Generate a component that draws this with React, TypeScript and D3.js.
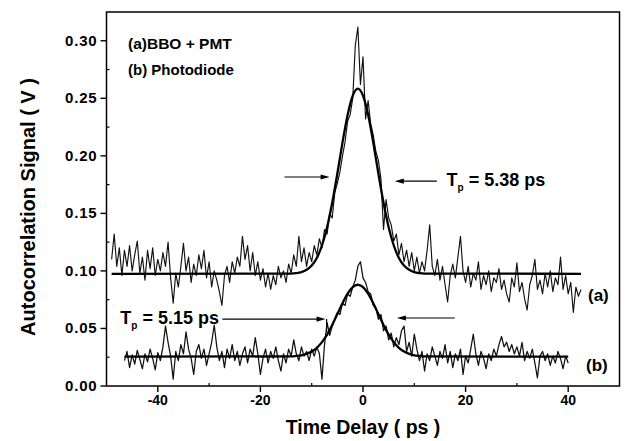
import React from "react";
import * as d3 from "d3";

// ---------- data (time in ps, signal in mV) ----------
const yTickValues = [0, 0.05, 0.1, 0.15, 0.2, 0.25, 0.3];
const yMinorTicks = [0.025, 0.075, 0.125, 0.175, 0.225, 0.275];
const xTickValues = [-40, -20, 0, 20, 40];
const xMinorTicks = [-30, -10, 10, 30];

const signalA: [number, number][] = [
  [-49,110],[-48.5,132],[-48,104],[-47.5,120],[-47,96],[-46.5,118],[-46,104],[-45.5,122],[-45,100],[-44.5,114],
  [-44,126],[-43.5,98],[-43,112],[-42.5,92],[-42,118],[-41.5,102],[-41,120],[-40.5,96],[-40,110],[-39.5,100],
  [-39,116],[-38.5,104],[-38,125],[-37.5,94],[-37,72],[-36.5,98],[-36,86],[-35.5,104],[-35,124],[-34.5,100],
  [-34,112],[-33.5,90],[-33,106],[-32.5,96],[-32,114],[-31.5,102],[-31,118],[-30.5,94],[-30,108],[-29.5,86],
  [-29,100],[-28.5,92],[-28,82],[-27.5,70],[-27,96],[-26.5,104],[-26,90],[-25.5,108],[-25,98],[-24.5,112],
  [-24,104],[-23.5,130],[-23,110],[-22.5,122],[-22,100],[-21.5,116],[-21,96],[-20.5,108],[-20,92],[-19.5,102],
  [-19,86],[-18.5,98],[-18,84],[-17.5,96],[-17,88],[-16.5,104],[-16,94],[-15.5,100],[-15,90],[-14.5,106],
  [-14,98],[-13.5,114],[-13,104],[-12.5,130],[-12,108],[-11.5,120],[-11,104],[-10.5,116],
  [-10,108],[-9.5,122],[-9,114],[-8.5,128],[-8,120],[-7.5,136],[-7,132],[-6.5,150],[-6,146],[-5.5,168],
  [-5,176],[-4.5,186],[-4,200],[-3.5,212],[-3,230],[-2.5,236],[-2,250],[-1.5,296],[-1,312],[-0.5,262],
  [0,286],[0.5,232],[1,248],[1.5,228],[2,218],[2.5,204],[3,196],[3.5,180],[4,136],[4.5,162],
  [5,146],[5.5,140],[6,126],[6.5,132],[7,114],[7.5,124],[8,108],[8.5,118],[9,104],[9.5,116],[10,100],
  [10.5,112],[11,98],[11.5,108],[12,100],[12.5,118],[13,140],[13.5,104],[14,96],[14.5,110],[15,92],
  [15.5,104],[16,88],[16.5,73],[17,96],[17.5,106],[18,94],[18.5,112],[19,130],[19.5,100],[20,90],
  [20.5,104],[21,86],[21.5,98],[22,92],[22.5,108],[23,84],[23.5,96],[24,88],[24.5,100],[25,82],
  [25.5,94],[26,90],[26.5,102],[27,84],[27.5,92],[28,80],[28.5,73],[29,94],[29.5,86],[30,107],
  [30.5,82],[31,90],[31.5,76],[32,66],[32.5,88],[33,96],[33.5,110],[34,84],[34.5,92],[35,80],
  [35.5,98],[36,86],[36.5,100],[37,82],[37.5,94],[38,88],[38.5,112],[39,84],[39.5,96],[40,80],
  [40.5,90],[41,64],[41.5,86],[42,78],[42.5,84]
];

const signalB: [number, number][] = [
  [-46.5,22],[-46,30],[-45.5,16],[-45,27],[-44.5,19],[-44,31],[-43.5,23],[-43,15],[-42.5,28],[-42,21],
  [-41.5,32],[-41,24],[-40.5,14],[-40,29],[-39.5,22],[-39,34],[-38.5,52],[-38,38],[-37.5,26],[-37,6],
  [-36.5,30],[-36,22],[-35.5,36],[-35,28],[-34.5,47],[-34,32],[-33.5,24],[-33,10],[-32.5,30],[-32,36],
  [-31.5,24],[-31,32],[-30.5,18],[-30,28],[-29.5,38],[-29,53],[-28.5,34],[-28,22],[-27.5,30],[-27,16],
  [-26.5,32],[-26,24],[-25.5,36],[-25,22],[-24.5,30],[-24,18],[-23.5,28],[-23,34],[-22.5,20],[-22,32],
  [-21.5,26],[-21,42],[-20.5,28],[-20,10],[-19.5,24],[-19,32],[-18.5,20],[-18,30],[-17.5,24],[-17,34],
  [-16.5,22],[-16,13],[-15.5,28],[-15,20],[-14.5,32],[-14,26],[-13.5,40],[-13,28],[-12.5,22],[-12,34],
  [-11.5,26],[-11,30],[-10.5,22],[-10,32],[-9.5,26],[-9,34],[-8.5,28],[-8,6],[-7.5,36],[-7,55],
  [-6.5,44],[-6,52],[-5.5,58],[-5,64],[-4.5,62],[-4,72],[-3.5,70],[-3,80],[-2.5,78],[-2,86],
  [-1.5,92],[-1,104],[-0.5,108],[0,94],[0.5,90],[1,82],[1.5,80],[2,70],[2.5,68],[3,58],
  [3.5,62],[4,48],[4.5,52],[5,40],[5.5,46],[6,34],[6.5,42],[7,36],[7.5,48],[8,52],
  [8.5,30],[9,38],[9.5,26],[10,45],[10.5,32],[11,22],[11.5,30],[12,13],[12.5,28],[13,22],
  [13.5,34],[14,26],[14.5,18],[15,30],[15.5,24],[16,36],[16.5,20],[17,30],[17.5,16],[18,28],
  [18.5,22],[19,32],[19.5,10],[20,26],[20.5,20],[21,32],[21.5,45],[22,28],[22.5,18],[23,30],
  [23.5,24],[24,15],[24.5,28],[25,22],[25.5,32],[26,26],[26.5,36],[27,43],[27.5,34],[28,38],
  [28.5,30],[29,36],[29.5,28],[30,34],[30.5,26],[31,38],[31.5,22],[32,30],[32.5,24],[33,32],
  [33.5,20],[34,7],[34.5,26],[35,30],[35.5,22],[36,28],[36.5,18],[37,26],[37.5,20],[38,30],
  [38.5,24],[39,15],[39.5,26],[40,20]
];

const fitA: [number, number][] = [
  [-49,97.5],[-14,97.7],[-13,98.1],[-12,99.0],[-11,101.0],[-10,104.7],[-9,111.3],[-8,122.1],[-7,138.0],
  [-6,159.2],[-5,184.6],[-4,211.5],[-3,235.6],[-2,252.4],[-1,258.5],[0,252.4],[1,235.6],[2,211.5],
  [3,184.6],[4,159.2],[5,138.0],[6,122.1],[7,111.3],[8,104.7],[9,101.0],[10,99.0],[11,98.1],[12,97.7],
  [42.5,97.5]
];

const fitB: [number, number][] = [
  [-46.5,25.5],[-14,25.7],[-13,26.1],[-12,26.7],[-11,27.9],[-10,29.9],[-9,33.2],[-8,38.1],[-7,44.7],
  [-6,53.1],[-5,62.5],[-4,72.0],[-3,80.3],[-2,86.0],[-1,88.0],[0,86.0],[1,80.3],[2,72.0],
  [3,62.5],[4,53.1],[5,44.7],[6,38.1],[7,33.2],[8,29.9],[9,27.9],[10,26.7],[11,26.1],[12,25.7],
  [40,25.5]
];

// annotation anchors in data space: [t start, t tip, V]
const arrowsRight: [number, number, number][] = [[-15.3, -6.5, 0.1816], [-27.4, -7.3, 0.0582]];
const arrowsLeft: [number, number, number][] = [[14.4, 6.2, 0.178], [17.9, 6.6, 0.0591]];
const pulseLabels = [
  { t: 16.3, v: 0.1738, value: "5.38" },
  { t: -47.3, v: 0.0539, value: "5.15" },
];

const FONT = "'Liberation Sans', Arial, Helvetica, sans-serif";

export default function App() {
  const W = 625, H = 441;
  const left = 106.5, right = 619.5, top = 12, bottom = 386;
  const x = d3.scaleLinear().domain([-50, 50]).range([left, right]);
  const y = d3.scaleLinear().domain([0, 0.325]).range([bottom, top]);
  const line = d3
    .line<[number, number]>()
    .x((d) => x(d[0]))
    .y((d) => y(d[1] / 1000));
  const smooth = d3
    .line<[number, number]>()
    .x((d) => x(d[0]))
    .y((d) => y(d[1] / 1000))
    .curve(d3.curveMonotoneX);

  const head = (tipX: number, tipY: number, dir: number) =>
    `M${tipX},${tipY} L${tipX - dir * 9},${tipY - 2.6} L${tipX - dir * 9},${tipY + 2.6} Z`;

  return (
    <svg
      width={W}
      height={H}
      style={{ position: "absolute", left: 0, top: 0, background: "#fff" }}
      fontFamily={FONT}
    >
      <rect x={0} y={0} width={W} height={H} fill="#fff" />
      {/* data */}
      <path d={line(signalA) || ""} fill="none" stroke="#111" strokeWidth={1.15} strokeLinejoin="round" />
      <path d={line(signalB) || ""} fill="none" stroke="#111" strokeWidth={1.25} strokeLinejoin="round" />
      <path d={smooth(fitA) || ""} fill="none" stroke="#000" strokeWidth={2.3} />
      <path d={smooth(fitB) || ""} fill="none" stroke="#000" strokeWidth={2.3} />

      {/* frame */}
      <rect x={left} y={top} width={right - left} height={bottom - top} fill="none" stroke="#000" strokeWidth={1.5} />

      {/* y axis ticks */}
      {yTickValues.map((v) => (
        <g key={"y" + v}>
          <line x1={left - 6} x2={left} y1={y(v)} y2={y(v)} stroke="#000" strokeWidth={1.4} />
          <text x={left - 9} y={y(v) + 5} textAnchor="end" fontSize={15} letterSpacing={0.8} fontWeight="bold">
            {v.toFixed(2)}
          </text>
        </g>
      ))}
      {yMinorTicks.map((v) => (
        <line key={"ym" + v} x1={left} x2={left + 3} y1={y(v)} y2={y(v)} stroke="#000" strokeWidth={1.2} />
      ))}

      {/* x axis ticks */}
      {xTickValues.map((v) => (
        <g key={"x" + v}>
          <line x1={x(v)} x2={x(v)} y1={bottom} y2={bottom + 6} stroke="#000" strokeWidth={1.4} />
          <text x={x(v)} y={bottom + 19} textAnchor="middle" fontSize={14} fontWeight="bold">
            {v}
          </text>
        </g>
      ))}
      {xMinorTicks.map((v) => (
        <line key={"xm" + v} x1={x(v)} x2={x(v)} y1={bottom} y2={bottom - 3} stroke="#000" strokeWidth={1.2} />
      ))}

      {/* axis titles */}
      <text x={(left + right) / 2} y={434} textAnchor="middle" fontSize={19.5} fontWeight="bold">
        Time Delay ( ps )
      </text>
      <text
        transform={`translate(35, ${(top + bottom) / 2 + 8}) rotate(-90)`}
        textAnchor="middle"
        fontSize={20}
        fontWeight="bold"
      >
        Autocorrelation Signal ( V )
      </text>

      {/* legend */}
      <text x={128} y={49} fontSize={15.5} fontWeight="bold">(a)BBO + PMT</text>
      <text x={128} y={75} fontSize={15} fontWeight="bold">(b) Photodiode</text>

      {/* curve labels */}
      <text x={588} y={301} fontSize={17} fontWeight="bold">(a)</text>
      <text x={586} y={371} fontSize={17} fontWeight="bold">(b)</text>

      {/* FWHM arrows */}
      {arrowsRight.map(([t0, t1, v], i) => (
        <g key={"ar" + i}>
          <line x1={x(t0)} x2={x(t1) - 6} y1={y(v)} y2={y(v)} stroke="#000" strokeWidth={1.2} />
          <path d={head(x(t1), y(v), 1)} fill="#000" />
        </g>
      ))}
      <line x1={x(-7.1)} x2={x(-7.1)} y1={y(0.0582)} y2={y(0.047)} stroke="#000" strokeWidth={1.2} />
      {arrowsLeft.map(([t0, t1, v], i) => (
        <g key={"al" + i}>
          <line x1={x(t0)} x2={x(t1) + 6} y1={y(v)} y2={y(v)} stroke="#000" strokeWidth={1.2} />
          <path d={head(x(t1), y(v), -1)} fill="#000" />
        </g>
      ))}
      {pulseLabels.map((p, i) => (
        <text key={"pl" + i} x={x(p.t)} y={y(p.v)} fontSize={18} fontWeight="bold">
          T
          <tspan fontSize={10} dy={5}>p</tspan>
          <tspan dy={-5}>{` = ${p.value} ps`}</tspan>
        </text>
      ))}
    </svg>
  );
}
